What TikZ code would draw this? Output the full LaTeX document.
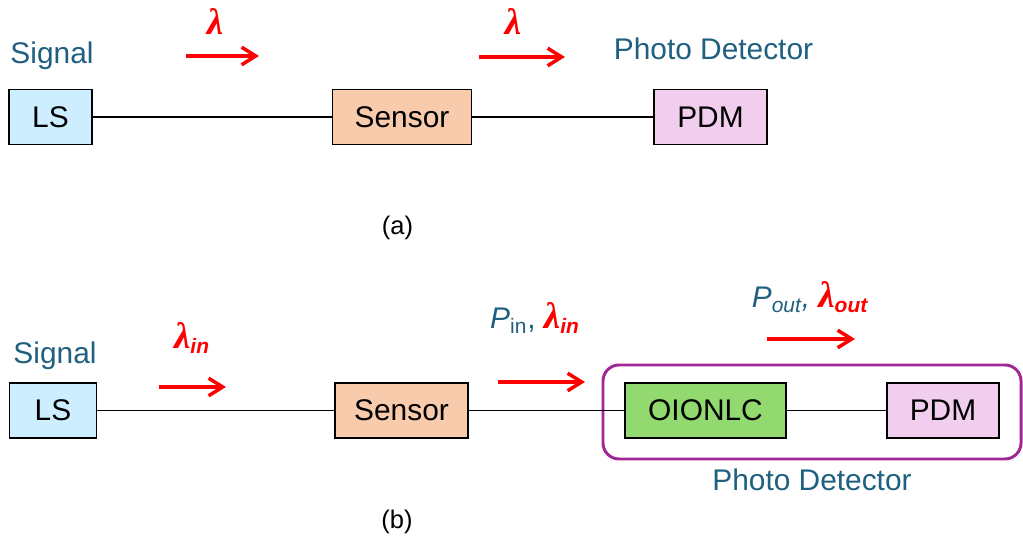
\documentclass[tikz,border=0pt]{standalone}
\usepackage{fontspec}
\setmainfont{Liberation Sans}
\newfontfamily\grk{Liberation Serif}
\usetikzlibrary{arrows.meta}
\definecolor{lblblue}{RGB}{31,96,128}
\definecolor{lsfill}{RGB}{204,238,255}
\definecolor{sensfill}{RGB}{248,203,173}
\definecolor{pdmfill}{RGB}{242,206,238}
\definecolor{oiofill}{RGB}{146,218,112}
\definecolor{pdborder}{RGB}{160,40,150}
\newcommand{\lam}{{\grk\bfseries\itshape\fontsize{21}{21}\selectfont λ}}
\tikzset{
  block/.style={draw,line width=0.9pt,minimum height=1.1cm,font=\fontsize{17}{20}\selectfont},
  lbl/.style={text=lblblue,font=\fontsize{17}{20}\selectfont},
  wl/.style={text=red,font=\fontsize{17}{20}\selectfont},
  flow/.style={red,line width=2pt,-{Straight Barb[length=8pt,width=10pt,line width=2pt]}},
  wire/.style={line width=1.1pt}
}
\begin{document}
\begin{tikzpicture}
\useasboundingbox (0,0) rectangle (20.46,10.8);
% (a)
\node[block,fill=lsfill,minimum width=1.66cm] (ls1) at (1.01,8.46) {LS};
\node[block,fill=sensfill,minimum width=2.78cm] (sen1) at (8.04,8.46) {Sensor};
\node[block,fill=pdmfill,minimum width=2.26cm] (pdm1) at (14.21,8.46) {PDM};
\draw[wire] (ls1)--(sen1) (sen1)--(pdm1);
\node[lbl] (sig1) at (1.04,9.68) {Signal};
\node[lbl] (pd1) at (14.27,9.82) {Photo Detector};
\node[wl] (lam1) at (4.30,10.36) {\lam};
\node[wl] (lam2) at (10.26,10.36) {\lam};
\coordinate (a1s) at (3.72,9.68); \coordinate (a1e) at (5.18,9.68);
\coordinate (a2s) at (9.58,9.66); \coordinate (a2e) at (11.30,9.66);
\draw[flow] (a1s)--(a1e);
\draw[flow] (a2s)--(a2e);
\node[font=\fontsize{14.5}{17}\selectfont] (capa) at (7.95,6.24) {(a)};
% (b)
\draw[pdborder,line width=1.7pt,rounded corners=0.32cm] (12.06,1.62) rectangle (20.42,3.5);
\node[block,fill=lsfill,minimum width=1.74cm] (ls2) at (1.06,2.59) {LS};
\node[block,fill=sensfill,minimum width=2.66cm] (sen2) at (8.03,2.59) {Sensor};
\node[block,fill=oiofill,minimum width=3.22cm] (oio) at (14.11,2.59) {OIONLC};
\node[block,fill=pdmfill,minimum width=2.24cm] (pdm2) at (18.86,2.59) {PDM};
\draw[wire] (ls2)--(sen2) (sen2)--(oio) (oio)--(pdm2);
\node[lbl] (sig2) at (1.1,3.68) {Signal};
\node[lbl] (pd2) at (16.24,1.2) {Photo Detector};
\node[wl] (lam3) at (3.84,4.04) {\lam\textsubscript{\bfseries\itshape in}};
\node[lbl] (pin) at (10.70,4.44) {\textit{P}\textsubscript{in}, \textcolor{red}{\lam\textsubscript{\bfseries\itshape in}}};
\node[lbl] (pout) at (16.2,4.86) {\textit{P}\textsubscript{\itshape out}\textit{,} \textcolor{red}{\lam\textsubscript{\bfseries\itshape out}}};
\coordinate (b1s) at (3.18,3.06); \coordinate (b1e) at (4.52,3.06);
\coordinate (b2s) at (9.96,3.16); \coordinate (b2e) at (11.70,3.16);
\coordinate (b3s) at (15.34,4.02); \coordinate (b3e) at (17.10,4.02);
\draw[flow] (b1s)--(b1e);
\draw[flow] (b2s)--(b2e);
\draw[flow] (b3s)--(b3e);
\node[font=\fontsize{14.5}{17}\selectfont] (capb) at (7.94,0.36) {(b)};
\end{tikzpicture}
\end{document}
